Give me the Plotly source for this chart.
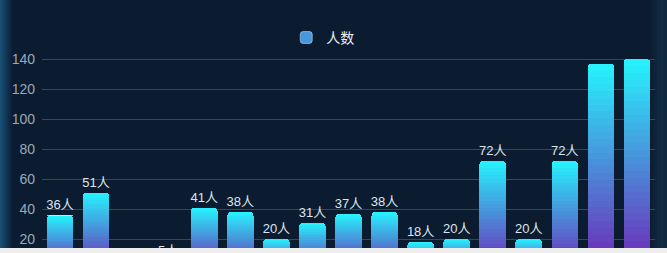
import plotly.graph_objects as go

# ---- data ----
categories = [f"C{i}" for i in range(1, 18)]
values = [36, 51, 2, 5, 41, 38, 20, 31, 37, 38, 18, 20, 72, 20, 72, 137, 140]
label_shown = [True] * 15 + [False, False]
series_name = "人数"
unit = "人"
y_ticks = [20, 40, 60, 80, 100, 120, 140]

# ---- style ----
BG = "#0b1c30"
TOP = (0x25, 0xF4, 0xFD)
BOT = (0x70, 0x25, 0xB5)
N_SEG = 30


def mix(t):
    r = [round(BOT[i] + (TOP[i] - BOT[i]) * t) for i in range(3)]
    return f"rgb({r[0]},{r[1]},{r[2]})"


fig = go.Figure()
for k in range(N_SEG):
    t = (k + 0.5) / N_SEG
    is_top = k == N_SEG - 1
    fig.add_trace(go.Bar(
        x=categories,
        y=[v / N_SEG for v in values],
        marker=dict(color=mix(t), line=dict(width=0)),
        showlegend=False,
        hoverinfo="skip",
        text=[f"{v}{unit}" if s else "" for v, s in zip(values, label_shown)] if is_top else None,
        textposition="outside" if is_top else "none",
        textfont=dict(color="#dde5ee", size=13,
                      family="Liberation Sans, Noto Sans CJK SC"),
        constraintext="none",
        cliponaxis=True,
    ))

# legend entry
fig.add_trace(go.Bar(
    x=[categories[0]], y=[0], name=series_name,
    marker=dict(color=mix(0.55)), showlegend=True, hoverinfo="skip",
))

# plot area pixel geometry for decorative edge glow
L, W = 42, 613


def px(xp):
    return (xp - L) / W


shapes = []
for i in range(6):
    a = 0.45 * (1 - i / 6)
    shapes.append(dict(type="rect", xref="paper", yref="paper",
                       x0=px(i * 2), x1=px(i * 2 + 2), y0=0, y1=1.25,
                       fillcolor=f"rgba(40,140,200,{a:.3f})", line=dict(width=0),
                       layer="below"))
for i in range(8):
    a = 0.18 * (1 - abs(i - 5) / 6)
    shapes.append(dict(type="rect", xref="paper", yref="paper",
                       x0=px(651 + i * 2), x1=px(653 + i * 2), y0=0, y1=1.25,
                       fillcolor=f"rgba(50,120,170,{a:.3f})", line=dict(width=0),
                       layer="below"))

fig.update_layout(
    width=667, height=248,
    margin=dict(l=L, r=667 - L - W, t=44, b=0, autoexpand=False),
    paper_bgcolor=BG, plot_bgcolor="rgba(0,0,0,0)",
    barmode="stack", bargap=0.26,
    barcornerradius=4,
    showlegend=True,
    legend=dict(orientation="h", x=0.458, xanchor="center", y=1.03, yanchor="middle",
                font=dict(color="#e8eef5", size=14, family="Noto Sans CJK SC"),
                bgcolor="rgba(0,0,0,0)", itemwidth=30),
    xaxis=dict(showticklabels=False, showgrid=False, zeroline=False, showline=False,
               ticks=""),
    yaxis=dict(range=[14, 150], tickvals=y_ticks, showgrid=True,
               gridcolor="#34475d", gridwidth=1, zeroline=False, showline=False,
               tickfont=dict(color="#9ba8b8", size=14, family="Liberation Sans"),
               ticklabelstandoff=6),
    shapes=shapes,
)

fig.write_html("out.html", config={"displayModeBar": False},
               post_script="document.body.style.margin='0';document.body.style.background='#eeeeee';")
